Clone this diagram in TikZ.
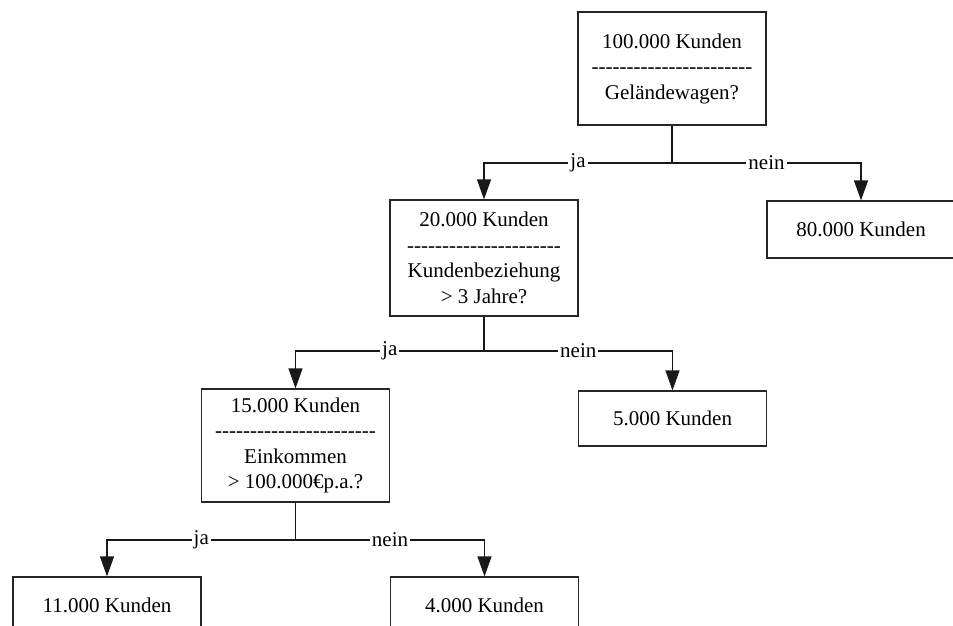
\documentclass[tikz,border=0pt]{standalone}
\usepackage{fontspec}
\setmainfont{Liberation Serif}
\usetikzlibrary{arrows.meta}
% a single hyphen that never joins into an en or em dash
\newcommand\hyph{-\kern0pt}
\newcommand\hyphrow[1]{\count255=0 \loop\hyph\advance\count255 by 1 \ifnum\count255<#1 \repeat}
\begin{document}
\begin{tikzpicture}[x=1pt,y=-1pt,
  box/.style={draw=black!85,line width=1.2pt,fill=white,inner sep=0pt,
    minimum width=188pt,align=center,
    font=\fontsize{21}{25.5}\selectfont},
  conn/.style={line width=1.2pt,draw=black!90},
  arr/.style={conn,-{Triangle[width=14pt,length=20pt]}},
  lbl/.style={fill=white,inner sep=2pt,font=\fontsize{21}{25}\selectfont}]
\useasboundingbox (0,0) rectangle (953,625);

% decision and leaf boxes
\node[box,minimum height=113pt] (b1) at (672,68.5)
  {100.000 Kunden\\\hyphrow{23}\\Geländewagen?};
\node[box,minimum height=116pt] (b2) at (484,258)
  {20.000 Kunden\\\hyphrow{22}\\Kundenbeziehung\\> 3 Jahre?};
\node[box,minimum height=57pt] (b3) at (861,229.5) {80.000 Kunden};
\node[box,minimum height=113pt] (b4) at (295.5,445.5)
  {15.000 Kunden\\\hyphrow{23}\\Einkommen\\> 100.000€p.a.?};
\node[box,minimum height=55pt] (b5) at (672.5,418.5) {5.000 Kunden};
\node[box,minimum height=57pt] (b6) at (107,605.5) {11.000 Kunden};
\node[box,minimum height=57pt] (b7) at (484.5,605.5) {4.000 Kunden};

% branching points
\coordinate (j1) at (672,163);
\coordinate (j2) at (484,351);
\coordinate (j3) at (295.5,540);

% connectors
\draw[conn] (b1.south) -- (j1);
\draw[arr] (j1) -| node[lbl,pos=0.25] {ja} (b2.north);
\draw[arr] (j1) -| node[lbl,pos=0.25] {nein} (b3.north);

\draw[conn] (b2.south) -- (j2);
\draw[arr] (j2) -| node[lbl,pos=0.25] {ja} (b4.north);
\draw[arr] (j2) -| node[lbl,pos=0.25] {nein} (b5.north);

\draw[conn] (b4.south) -- (j3);
\draw[arr] (j3) -| node[lbl,pos=0.25] {ja} (b6.north);
\draw[arr] (j3) -| node[lbl,pos=0.25] {nein} (b7.north);
\end{tikzpicture}
\end{document}
